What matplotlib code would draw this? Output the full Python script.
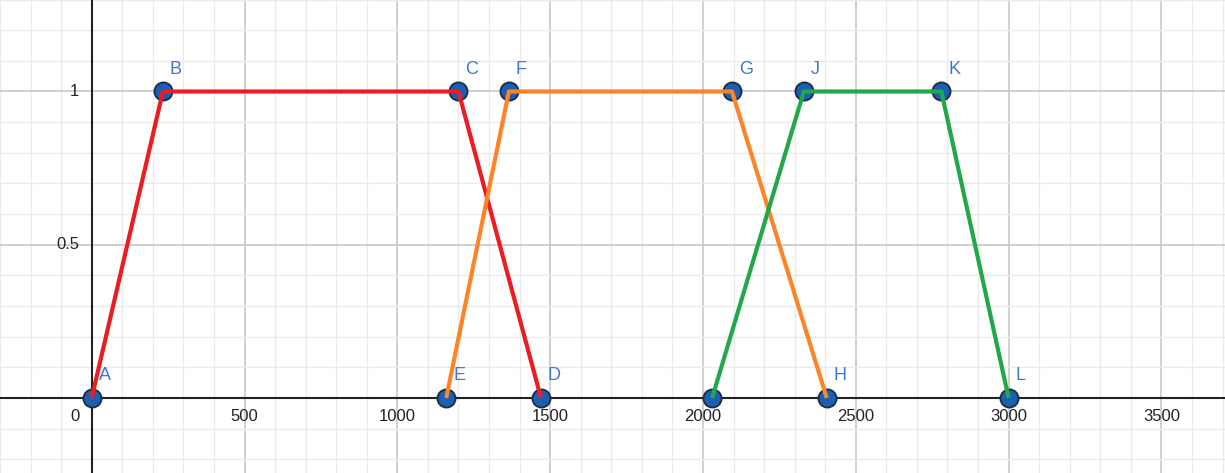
import matplotlib
matplotlib.use("Agg")
import matplotlib.pyplot as plt
import numpy as np

# Data
labels = ["A", "B", "C", "D", "E", "F", "G", "H", "I", "J", "K", "L"]
xs = [0, 233, 1200, 1470, 1160, 1365, 2095, 2405, 2030, 2330, 2780, 3000]
ys = [0, 1, 1, 0, 0, 1, 1, 0, 0, 1, 1, 0]
shown_labels = ["A", "B", "C", "D", "E", "F", "G", "H", "", "J", "K", "L"]

series_red = ["A", "B", "C", "D"]
series_orange = ["E", "F", "G", "H"]
series_green = ["I", "J", "K", "L"]
series_colors = ["#ED1C24", "#FF8427", "#21A84A"]

x_ticks = [500, 1000, 1500, 2000, 2500, 3000, 3500]
y_ticks = [0.5, 1]

pts = {l: (x, y) for l, x, y in zip(labels, xs, ys)}

plt.rcParams['font.family'] = ['Liberation Sans', 'DejaVu Sans']

fig = plt.figure(figsize=(12.25, 4.73), dpi=100)
ax = fig.add_axes([0, 0, 1, 1])
xmin, xmax = -300, 3708
ymin, ymax = -0.2447, 1.2985
ax.set_xlim(xmin, xmax)
ax.set_ylim(ymin, ymax)
ax.axis("off")

# Grid
for gx in np.arange(-300, 3701, 100):
    major = (gx % 500 == 0)
    ax.axvline(gx, color="#C8C8C8" if major else "#EBEBEB", lw=1.2 if major else 1.0, zorder=0)
for gy in np.round(np.arange(-0.2, 1.31, 0.1), 2):
    major = abs(gy * 2 - round(gy * 2)) < 1e-6
    ax.axhline(gy, color="#C8C8C8" if major else "#EBEBEB", lw=1.2 if major else 1.0, zorder=0)

# Axes
ax.axhline(0, color="#222222", lw=1.5, zorder=1)
ax.axvline(0, color="#222222", lw=1.5, zorder=1)

# Tick labels
for t in x_ticks:
    ax.annotate(str(t), (t, 0), xytext=(0, -8), textcoords="offset points",
                ha="center", va="top", fontsize=12, color="#222222")
ax.annotate("0", (0, 0), xytext=(-12, -8), textcoords="offset points",
            ha="center", va="top", fontsize=12, color="#222222")
for t in y_ticks:
    ax.annotate(("%g" % t), (0, t), xytext=(-9, 0), textcoords="offset points",
                ha="right", va="center", fontsize=12, color="#222222")

# Points
ax.scatter(xs, ys, s=170, color="#1A5FB4", edgecolor="#1F2B3A", linewidth=1.3, zorder=3)

# Lines
for ser, col in zip([series_red, series_orange, series_green], series_colors):
    px = [pts[l][0] for l in ser]
    py = [pts[l][1] for l in ser]
    ax.plot(px, py, color=col, lw=3.0, zorder=4, solid_capstyle="butt")

# Point labels
for l, x, y in zip(shown_labels, xs, ys):
    if l:
        ax.annotate(l, (x, y), xytext=(5, 10), textcoords="offset points",
                    ha="left", va="bottom", fontsize=13, color="#3C78D0", zorder=5)

fig.savefig("out.png", dpi=100)
